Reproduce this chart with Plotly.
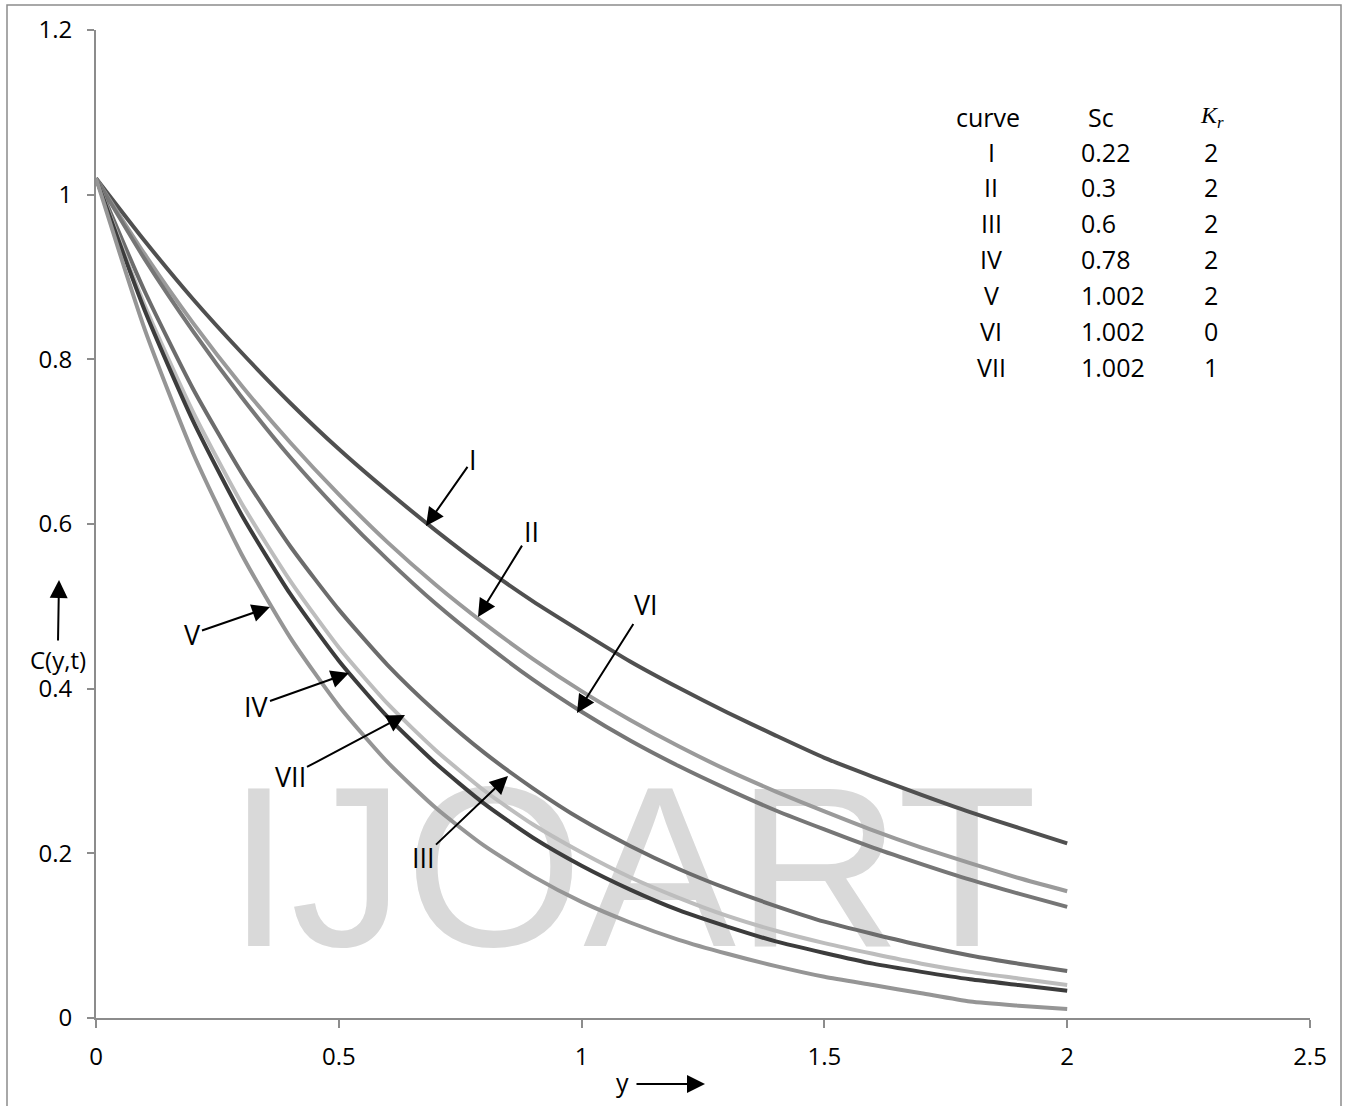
import plotly.graph_objects as go

# ---------------- data ----------------
y_pos = [0.0, 0.1, 0.2, 0.3, 0.4, 0.5, 0.6, 0.7, 0.8, 0.9, 1.0,
         1.1, 1.2, 1.3, 1.4, 1.5, 1.6, 1.7, 1.8, 1.9, 2.0]

c_I = [1.02, 0.944, 0.873, 0.808, 0.747, 0.691, 0.640, 0.592, 0.547, 0.506, 0.469,
       0.433, 0.401, 0.371, 0.343, 0.316, 0.293, 0.271, 0.250, 0.231, 0.212]
c_II = [1.02, 0.928, 0.844, 0.768, 0.699, 0.636, 0.578, 0.526, 0.479, 0.436, 0.397,
        0.362, 0.330, 0.301, 0.275, 0.251, 0.228, 0.207, 0.188, 0.170, 0.154]
c_VI = [1.02, 0.922, 0.834, 0.754, 0.681, 0.616, 0.557, 0.503, 0.455, 0.411, 0.372,
        0.337, 0.306, 0.278, 0.252, 0.229, 0.207, 0.187, 0.168, 0.151, 0.135]
c_III = [1.02, 0.883, 0.764, 0.662, 0.573, 0.496, 0.429, 0.372, 0.322, 0.279, 0.241,
         0.209, 0.181, 0.157, 0.136, 0.117, 0.102, 0.088, 0.076, 0.066, 0.057]
c_VII = [1.02, 0.866, 0.736, 0.625, 0.531, 0.450, 0.382, 0.325, 0.276, 0.235, 0.201,
         0.171, 0.146, 0.124, 0.106, 0.091, 0.078, 0.066, 0.056, 0.048, 0.040]
c_IV = [1.02, 0.860, 0.725, 0.611, 0.515, 0.434, 0.366, 0.309, 0.260, 0.219, 0.185,
        0.156, 0.131, 0.111, 0.093, 0.079, 0.066, 0.056, 0.047, 0.040, 0.033]
c_V = [1.02, 0.837, 0.686, 0.563, 0.462, 0.379, 0.311, 0.255, 0.209, 0.172, 0.141,
       0.116, 0.095, 0.078, 0.063, 0.050, 0.040, 0.030, 0.020, 0.015, 0.011]

table_curves = ["I", "II", "III", "IV", "V", "VI", "VII"]
table_sc = ["0.22", "0.3", "0.6", "0.78", "1.002", "1.002", "1.002"]
table_kr = ["2", "2", "2", "2", "2", "0", "1"]

x_ticks = [0, 0.5, 1, 1.5, 2, 2.5]
x_ticklabels = ["0", "0.5", "1", "1.5", "2", "2.5"]
y_ticks = [0, 0.2, 0.4, 0.6, 0.8, 1.0, 1.2]
y_ticklabels = ["0", "0.2", "0.4", "0.6", "0.8", "1", "1.2"]

# ---------------- layout helpers ----------------
W, H = 1349, 1106
L, R, T, B = 96, 1310, 30, 1018
XMAX, YMAX = 2.5, 1.2


def px_x(p):
    return (p - L) / (R - L) * XMAX


def px_y(p):
    return (B - p) / (B - T) * YMAX


def pp_x(p):
    return (p - L) / (R - L)


def pp_y(p):
    return (B - p) / (B - T)


FONT = "Open Sans, Noto Sans, sans-serif"

fig = go.Figure()

# watermark underneath curves
fig.add_trace(go.Scatter(
    x=[px_x(632)], y=[px_y(889)], mode="text", text=["IJOART"],
    textposition="middle center",
    textfont=dict(family="Liberation Sans, Arial, sans-serif", size=229, color="#d9d9d9"),
    hoverinfo="skip", showlegend=False, cliponaxis=False))

series = [
    ("I", c_I, "#505050"),
    ("II", c_II, "#9a9a9a"),
    ("VI", c_VI, "#767676"),
    ("III", c_III, "#6c6c6c"),
    ("VII", c_VII, "#bdbdbd"),
    ("IV", c_IV, "#3c3c3c"),
    ("V", c_V, "#959595"),
]
for name, vals, col in series:
    fig.add_trace(go.Scatter(
        x=y_pos, y=vals, mode="lines", name=name,
        line=dict(color=col, width=4, shape="spline", smoothing=0.6),
        showlegend=False))

ann = []
# curve labels with arrows: (text, head_px_x, head_px_y, text_px_x, text_px_y)
labels = [
    ("I", 426, 526, 473, 459),
    ("II", 478, 617, 531, 531),
    ("VI", 577, 713, 646, 604),
    ("V", 270, 607, 192, 634),
    ("IV", 349, 673, 256, 706),
    ("VII", 405, 715, 290, 776),
    ("III", 508, 776, 423, 857),
]
for txt, hx, hy, tx, ty in labels:
    ann.append(dict(
        x=px_x(hx), y=px_y(hy), xref="x", yref="y",
        ax=tx - hx, ay=ty - hy, axref="pixel", ayref="pixel",
        text=txt, showarrow=True, arrowhead=2, arrowsize=1.8, arrowwidth=2,
        arrowcolor="black", font=dict(family=FONT, size=27, color="black")))

# table
rows_y = [152, 187, 223, 259, 295, 331, 367]
ann.append(dict(x=px_x(988), y=px_y(117), xref="x", yref="y", text="curve",
                showarrow=False, xanchor="center", yanchor="middle",
                font=dict(family=FONT, size=25, color="black")))
ann.append(dict(x=px_x(1086), y=px_y(117), xref="x", yref="y", text="Sc",
                showarrow=False, xanchor="left", yanchor="middle",
                font=dict(family=FONT, size=25, color="black")))
ann.append(dict(x=px_x(1212), y=px_y(117), xref="x", yref="y",
                text="<i>K</i><sub><i>r</i></sub>",
                showarrow=False, xanchor="center", yanchor="middle",
                font=dict(family="Liberation Serif, Times New Roman, serif", size=24, color="black")))
for i in range(len(table_curves)):
    ann.append(dict(x=px_x(991), y=px_y(rows_y[i]), xref="x", yref="y", text=table_curves[i],
                    showarrow=False, xanchor="center", yanchor="middle",
                    font=dict(family=FONT, size=25, color="black")))
    ann.append(dict(x=px_x(1079), y=px_y(rows_y[i]), xref="x", yref="y", text=table_sc[i],
                    showarrow=False, xanchor="left", yanchor="middle",
                    font=dict(family=FONT, size=25, color="black")))
    ann.append(dict(x=px_x(1211), y=px_y(rows_y[i]), xref="x", yref="y", text=table_kr[i],
                    showarrow=False, xanchor="center", yanchor="middle",
                    font=dict(family=FONT, size=25, color="black")))

# axis titles with arrows (paper coordinates, outside plot area)
ann.append(dict(x=pp_x(622), y=pp_y(1082), xref="paper", yref="paper", text="y",
                showarrow=False, xanchor="center", yanchor="middle",
                font=dict(family=FONT, size=25, color="black")))
ann.append(dict(x=pp_x(705), y=pp_y(1084), xref="paper", yref="paper", text="",
                ax=-70, ay=0, axref="pixel", ayref="pixel",
                showarrow=True, arrowhead=2, arrowsize=1.8, arrowwidth=2, arrowcolor="black"))
ann.append(dict(x=pp_x(58), y=pp_y(659), xref="paper", yref="paper", text="C(y,t)",
                showarrow=False, xanchor="center", yanchor="middle",
                font=dict(family=FONT, size=24, color="black")))
ann.append(dict(x=pp_x(59), y=pp_y(580), xref="paper", yref="paper", text="",
                ax=-1, ay=62, axref="pixel", ayref="pixel",
                showarrow=True, arrowhead=2, arrowsize=1.8, arrowwidth=2, arrowcolor="black"))

shapes = [dict(type="rect", xref="paper", yref="paper",
               x0=pp_x(7), x1=pp_x(1341), y0=pp_y(1115), y1=pp_y(5),
               line=dict(color="#8c8c8c", width=1.5), fillcolor="rgba(0,0,0,0)",
               layer="below")]

fig.update_layout(
    width=W, height=H,
    margin=dict(l=L, r=W - R, t=T, b=H - B, pad=0),
    paper_bgcolor="white", plot_bgcolor="white",
    annotations=ann, shapes=shapes,
    xaxis=dict(range=[0, XMAX], tickvals=x_ticks, ticktext=x_ticklabels,
               showgrid=False, zeroline=False, showline=True, linecolor="#8c8c8c",
               linewidth=2, ticks="outside", ticklen=8, tickwidth=1.5, tickcolor="#8c8c8c",
               tickfont=dict(family=FONT, size=24, color="black"), ticklabelstandoff=8),
    yaxis=dict(range=[0, YMAX], tickvals=y_ticks, ticktext=y_ticklabels,
               showgrid=False, zeroline=False, showline=True, linecolor="#8c8c8c",
               linewidth=2, ticks="outside", ticklen=7, tickwidth=1.5, tickcolor="#8c8c8c",
               tickfont=dict(family=FONT, size=24, color="black"), ticklabelstandoff=10),
    showlegend=False,
)

fig.write_html("out.html")
